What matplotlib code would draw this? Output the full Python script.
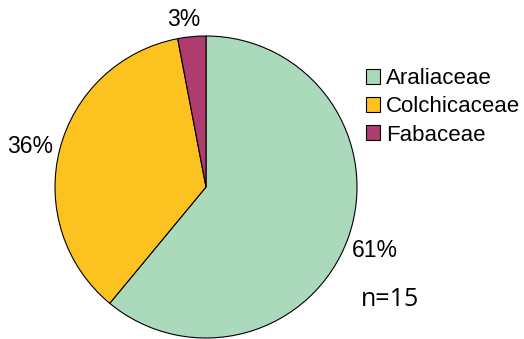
import matplotlib.pyplot as plt

families = ['Araliaceae', 'Colchicaceae', 'Fabaceae']
shares = [61, 36, 3]
colors = ['#abd9bc', '#fcc21f', '#b03c6f']
n_total = 15

plt.rcParams['font.family'] = ['Liberation Sans', 'DejaVu Sans']

fig = plt.figure(figsize=(5.24, 3.39), dpi=100)
# pie axes in pixel terms: centre (206, 187), radius 151
ax = fig.add_axes([55 / 524, 1 / 339, 302 / 524, 302 / 339])
wedges, _, pcts = ax.pie(shares, colors=colors, startangle=90, counterclock=False,
                         autopct='%.0f%%', pctdistance=1.17,
                         wedgeprops=dict(edgecolor='black', linewidth=0.8),
                         textprops=dict(fontsize=16.5))
# nudge percentage labels to where they sit around the rim
label_pos = [(1.12, -0.42), (-1.165, 0.27), (-0.15, 1.11)]
for t, p in zip(pcts, label_pos):
    t.set_position(p)
ax.set_xlim(-1, 1)
ax.set_ylim(-1, 1)
ax.set_aspect('equal')

fig.legend(wedges, families, loc='upper left', bbox_to_anchor=(357 / 524, 1 - 59 / 339),
           frameon=False, fontsize=16, handlelength=0.65, handleheight=0.65,
           handletextpad=0.25, labelspacing=0.33, borderaxespad=0)

fig.text(390 / 524, 1 - 299 / 339, 'n=%d' % n_total, family='Open Sans',
         fontsize=18, ha='center', va='center')

fig.savefig('out.png', dpi=100)
